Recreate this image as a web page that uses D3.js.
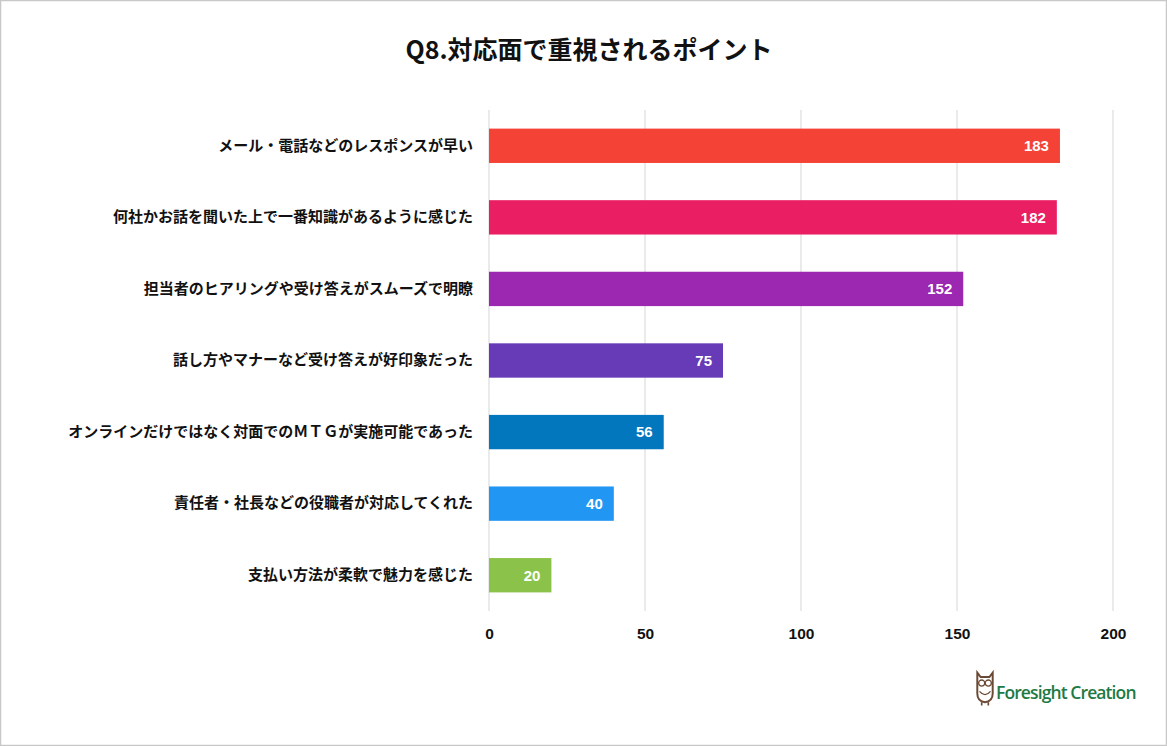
<!DOCTYPE html>
<html>
<head>
<meta charset="utf-8">
<script src="https://cdn.jsdelivr.net/npm/d3@7"></script>
<style>
  html, body { margin: 0; padding: 0; background: #fff; }
  svg { display: block; }
</style>
</head>
<body>
<div id="canvas"></div>
<script>
// Chart data.
const categories = [
    "メール・電話などのレスポンスが早い",
    "何社かお話を聞いた上で一番知識があるように感じた",
    "担当者のヒアリングや受け答えがスムーズで明瞭",
    "話し方やマナーなど受け答えが好印象だった",
    "オンラインだけではなく対面でのＭＴＧが実施可能であった",
    "責任者・社長などの役職者が対応してくれた",
    "支払い方法が柔軟で魅力を感じた"
];
const counts = [183, 182, 152, 75, 56, 40, 20];
const barColors = ["#F44336", "#E91E63", "#9C27B0", "#673AB7", "#0277BD", "#2196F3", "#8BC34A"];
const xTicks = [0, 50, 100, 150, 200];

// Dimensions.
const WIDTH = 1167;
const HEIGHT = 746;
const PLOT_LEFT = 489;
const PLOT_RIGHT = 1113;
const PLOT_TOP = 110;
const PLOT_BOTTOM = 611;

const FONT = "'Noto Sans CJK JP', 'Noto Sans', sans-serif";
const NUM_FONT = "'Liberation Sans', Arial, sans-serif";
const TEXT_COLOR = "#111";
const GRID_COLOR = "#dcdcdc";

const svg = d3.select("#canvas")
    .append("svg")
    .attr("width", WIDTH)
    .attr("height", HEIGHT);

// Outer frame.
svg.append("rect")
    .attr("x", 0.5)
    .attr("y", 0.5)
    .attr("width", WIDTH - 1)
    .attr("height", HEIGHT - 1)
    .attr("fill", "#fff")
    .attr("stroke", "#c8c8c8")
    .attr("stroke-width", 1.5);

// Title.
svg.append("text")
    .attr("x", 589)
    .attr("y", 59)
    .attr("text-anchor", "middle")
    .attr("font-family", FONT)
    .attr("font-weight", "bold")
    .attr("font-size", 25)
    .attr("fill", TEXT_COLOR)
    .text("Q8.対応面で重視されるポイント");

// Scales.
const xScale = d3.scaleLinear()
    .domain([0, 200])
    .range([PLOT_LEFT, PLOT_RIGHT]);
const yScale = d3.scaleBand()
    .domain(categories)
    .range([PLOT_TOP, PLOT_BOTTOM])
    .paddingInner(0.52)
    .paddingOuter(0.26);

// Vertical gridlines.
svg.append("g")
    .selectAll("line")
    .data(xTicks)
    .join("line")
    .attr("x1", d => xScale(d))
    .attr("x2", d => xScale(d))
    .attr("y1", PLOT_TOP)
    .attr("y2", PLOT_BOTTOM)
    .attr("stroke", GRID_COLOR)
    .attr("stroke-width", 1.2);

// X axis labels.
const xAxis = d3.axisBottom(xScale)
    .tickValues(xTicks)
    .tickSize(0)
    .tickPadding(17);
const xAxisGroup = svg.append("g")
    .attr("transform", `translate(0, ${PLOT_BOTTOM})`)
    .call(xAxis);
xAxisGroup.select(".domain").remove();
xAxisGroup.selectAll("text")
    .attr("font-family", NUM_FONT)
    .attr("font-weight", "bold")
    .attr("font-size", 15.5)
    .attr("fill", TEXT_COLOR);

// Y axis labels.
const yAxis = d3.axisLeft(yScale)
    .tickSize(0)
    .tickPadding(16);
const yAxisGroup = svg.append("g")
    .attr("transform", `translate(${PLOT_LEFT}, 0)`)
    .call(yAxis);
yAxisGroup.select(".domain").remove();
yAxisGroup.selectAll("text")
    .attr("font-family", FONT)
    .attr("font-weight", "bold")
    .attr("font-size", 15)
    .attr("fill", TEXT_COLOR);

// Bars.
const rows = categories.map((c, i) => ({ category: c, value: counts[i], color: barColors[i] }));

svg.append("g")
    .selectAll("rect")
    .data(rows)
    .join("rect")
    .attr("x", xScale(0))
    .attr("y", d => yScale(d.category))
    .attr("width", d => xScale(d.value) - xScale(0))
    .attr("height", yScale.bandwidth())
    .attr("fill", d => d.color);

// Value labels inside the bars.
svg.append("g")
    .selectAll("text")
    .data(rows)
    .join("text")
    .attr("x", d => xScale(d.value) - 11)
    .attr("y", d => yScale(d.category) + yScale.bandwidth() / 2)
    .attr("dy", "0.36em")
    .attr("text-anchor", "end")
    .attr("font-family", NUM_FONT)
    .attr("font-weight", "bold")
    .attr("font-size", 15)
    .attr("fill", "#fff")
    .text(d => d.value);

// Logo: a small owl and the company name.
const OWL = "#6b4a35";
const logo = svg.append("g").attr("transform", "translate(985, 688) scale(1.1)");
logo.append("path")
    .attr("d", "M-7,-14 L-4,-10 L4,-10 L7,-14 L7,5 Q7,12 0,13 Q-7,12 -7,5 Z")
    .attr("fill", "#fff")
    .attr("stroke", OWL)
    .attr("stroke-width", 1.8);
logo.append("circle").attr("cx", -3).attr("cy", -4.5).attr("r", 2.8)
    .attr("fill", "none").attr("stroke", OWL).attr("stroke-width", 1.2);
logo.append("circle").attr("cx", 3).attr("cy", -4.5).attr("r", 2.8)
    .attr("fill", "none").attr("stroke", OWL).attr("stroke-width", 1.2);
logo.append("path")
    .attr("d", "M-5,3 Q0,9 5,3")
    .attr("fill", "none").attr("stroke", OWL).attr("stroke-width", 1.2);
logo.append("path")
    .attr("d", "M-3,13 L-3,16 M3,13 L3,16")
    .attr("stroke", OWL).attr("stroke-width", 1.5);

svg.append("text")
    .attr("x", 996)
    .attr("y", 699)
    .attr("font-family", "'Open Sans', 'Noto Sans', sans-serif")
    .attr("font-weight", 600)
    .attr("font-size", 17.5)
    .attr("letter-spacing", -0.9)
    .attr("fill", "#1e7a45")
    .text("Foresight Creation");
</script>
</body>
</html>
